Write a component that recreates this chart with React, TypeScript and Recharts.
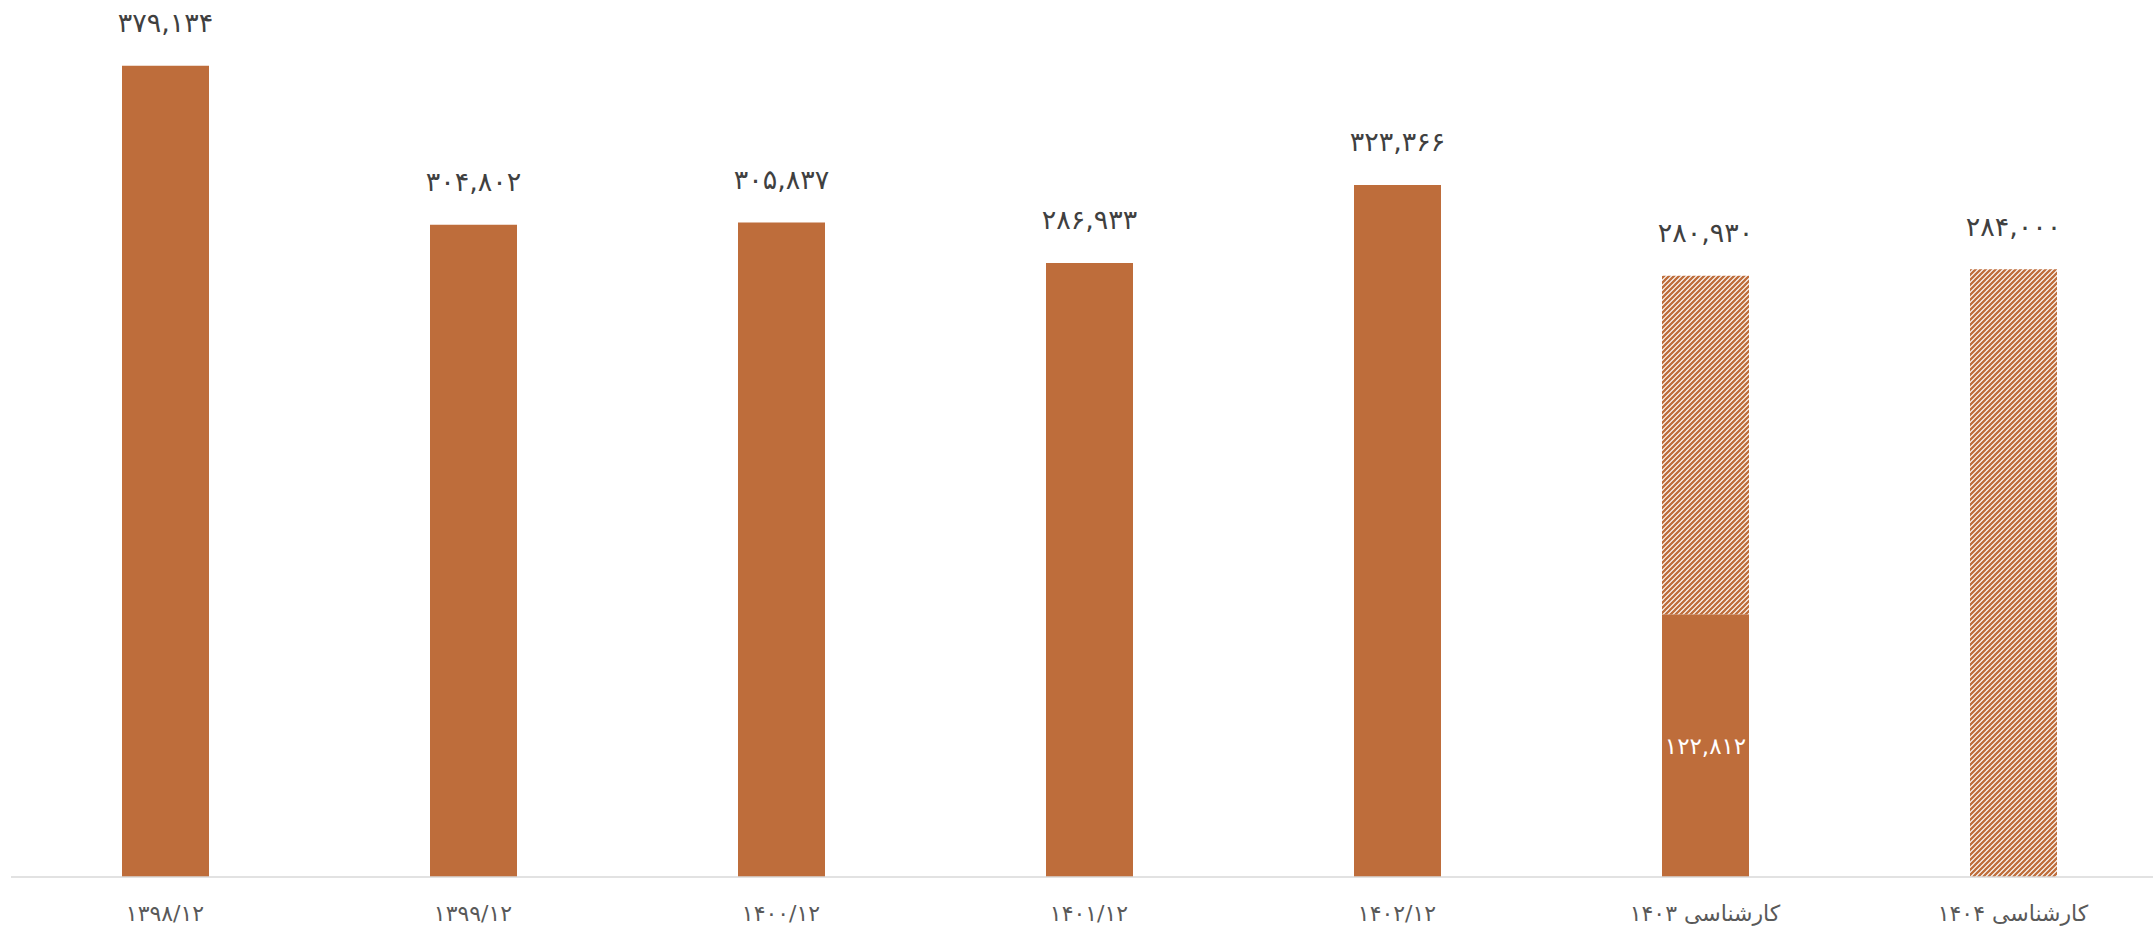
import React from 'react';
import { BarChart, Bar, XAxis, YAxis, LabelList } from 'recharts';

// دسته‌ها و مقادیر خوانده شده از نمودار
const categories = [
  '۱۳۹۸/۱۲',
  '۱۳۹۹/۱۲',
  '۱۴۰۰/۱۲',
  '۱۴۰۱/۱۲',
  '۱۴۰۲/۱۲',
  'کارشناسی ۱۴۰۳',
  'کارشناسی ۱۴۰۴',
];
const actualValues: (number | null)[] = [379134, 304802, 305837, 286933, 323366, 122812, null];
const estimateTotals: (number | null)[] = [null, null, null, null, null, 280930, 284000];

const BAR_COLOR = '#BE6D3B';
const FONT = '"DejaVu Sans", sans-serif';

// ارقام فارسی با جداکننده کاما
const toPersian = (v: number) =>
  Number(v).toLocaleString('en-US').replace(/\d/g, (d) => '۰۱۲۳۴۵۶۷۸۹'[Number(d)]);

const data = categories.map((name, i) => {
  const actual = actualValues[i];
  const total = estimateTotals[i];
  return {
    name,
    actual,
    estimate: total != null ? total - (actual ?? 0) : null,
    // برچسب بالای ستون‌های واقعی، برچسب داخلی و جمع پیش‌بینی
    topLabel: total == null ? actual : null,
    insideLabel: total != null ? actual : null,
    total,
  };
});

const topLabel = (props: any) => {
  const { x, y, width, value } = props;
  if (value == null || x == null) return null;
  return (
    <text
      x={Number(x) + Number(width) / 2}
      y={Number(y) - 43}
      textAnchor="middle"
      dominantBaseline="central"
      fill="#404040"
      fontSize={27}
      fontFamily={FONT}
    >
      {toPersian(value)}
    </text>
  );
};

const insideLabel = (props: any) => {
  const { x, y, width, height, value } = props;
  if (value == null || x == null) return null;
  return (
    <text
      x={Number(x) + Number(width) / 2}
      y={Number(y) + Number(height) / 2}
      textAnchor="middle"
      dominantBaseline="central"
      fill="#ffffff"
      fontSize={23}
      fontFamily={FONT}
    >
      {toPersian(value)}
    </text>
  );
};

const CategoryTick = ({ x, y, payload }: any) => (
  <text
    x={x}
    y={y + 36}
    textAnchor="middle"
    dominantBaseline="central"
    direction="rtl"
    fill="#595959"
    fontSize={22}
    fontFamily={FONT}
  >
    {payload.value}
  </text>
);

const App = () => {
  return (
    <div style={{ position: 'absolute', left: 0, top: 0, width: 2153, height: 928, overflow: 'hidden', background: '#fff' }}>
      <svg width={0} height={0} style={{ position: 'absolute' }}>
        <defs>
          <pattern id="hatch" width={5} height={5} patternUnits="userSpaceOnUse">
            <rect width={5} height={5} fill="#ffffff" />
            <path d="M0,5 L5,0 M-1,1 L1,-1 M4,6 L6,4" stroke={BAR_COLOR} strokeWidth={2.3} />
          </pattern>
        </defs>
      </svg>
      <BarChart
        width={2167}
        height={928}
        data={data}
        margin={{ top: 21, right: 0, left: 11, bottom: 0 }}
      >
        <XAxis
          dataKey="name"
          height={51}
          interval={0}
          tickLine={false}
          tickSize={0}
          tickMargin={0}
          axisLine={{ stroke: '#D9D9D9', strokeWidth: 1.5 }}
          tick={<CategoryTick />}
        />
        <YAxis hide domain={[0, 400000]} />
        <Bar dataKey="actual" stackId="a" fill={BAR_COLOR} barSize={87} isAnimationActive={false}>
          <LabelList dataKey="topLabel" content={topLabel} />
          <LabelList dataKey="insideLabel" content={insideLabel} />
        </Bar>
        <Bar dataKey="estimate" stackId="a" fill="url(#hatch)" barSize={87} isAnimationActive={false}>
          <LabelList dataKey="total" content={topLabel} />
        </Bar>
      </BarChart>
    </div>
  );
};

export default App;
